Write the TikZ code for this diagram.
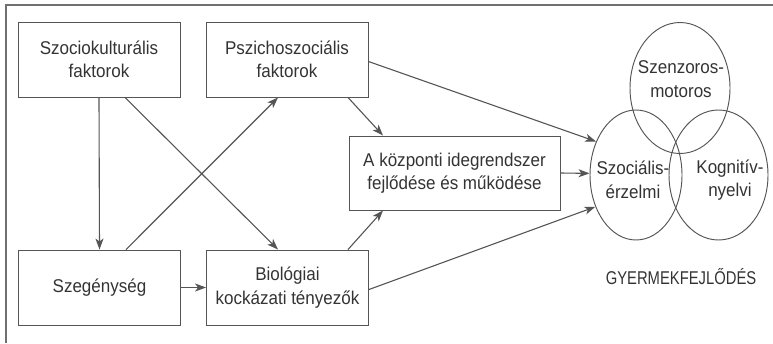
\documentclass[tikz,border=0pt]{standalone}
\usepackage{fontspec}
\setmainfont{Liberation Sans}[FakeStretch=0.92]
\newfontfamily\capsfont{Liberation Sans}[FakeStretch=0.8]
\usetikzlibrary{arrows.meta,shapes.geometric}
\definecolor{ink}{HTML}{333333}
\definecolor{edge}{HTML}{555555}
\definecolor{frame}{HTML}{707070}
\tikzset{
  txt/.style={font=\fontsize{18.5pt}{23.5pt}\selectfont, text=ink, align=center},
  box/.style={txt, draw=edge, line width=0.95pt, inner sep=0pt},
  blob/.style={ellipse, draw=edge, line width=0.95pt, inner sep=0pt},
  arr/.style={draw=edge, line width=1.1pt, -{Stealth[length=11pt,width=8pt,inset=3pt]}}
}
\begin{document}
\begin{tikzpicture}[x=1pt,y=-1pt]
\useasboundingbox (0,0) rectangle (773,343);
\draw[frame, line width=1.4pt] (6,343) -- (6,5) -- (773,5);

\node[box, minimum width=162pt, minimum height=75pt] (b1) at (99,59.5) {Szociokulturális\\faktorok};
\node[box, minimum width=162pt, minimum height=75pt] (b2) at (287,59.5) {Pszichoszociális\\faktorok};
\node[box, minimum width=162pt, minimum height=75pt] (b3) at (99.5,287.5) {Szegénység};
\node[box, minimum width=162pt, minimum height=75pt] (b4) at (287.5,287.5) {Biológiai\\kockázati tényezők};
\node[box, minimum width=211pt, minimum height=74pt] (b5) at (454.5,173) {A központi idegrendszer\\fejlődése és működése};

\node[blob, minimum width=100pt, minimum height=131pt] (szm) at (680,88) {};
\node[blob, minimum width=92pt, minimum height=130pt] (soc) at (636,175) {};
\node[blob, minimum width=99pt, minimum height=130pt] (kog) at (718.5,175) {};

\node[txt] (tszm) at (681,79) {Szenzoros-\\motoros};
\node[txt] (tsoc) at (633,180) {Szociális-\\érzelmi};
\node[txt] (tkog) at (730,180) {Kognitív-\\nyelvi};
\node[txt, font=\fontsize{18.5pt}{22pt}\capsfont] (gy) at (681,277) {GYERMEKFEJLŐDÉS};

\draw[arr] (b1.south) -- (b3.north);
\draw[arr] ([xshift=26pt]b1.south) -- ([xshift=-9.5pt]b4.north);
\draw[arr] ([xshift=26.5pt]b3.north) -- ([xshift=-9pt]b2.south);
\draw[arr] ([xshift=61pt]b2.south) -- ([xshift=-71.5pt]b5.north);
\draw[arr] ([xshift=60.5pt]b4.north) -- ([xshift=-71.5pt]b5.south);
\draw[arr] (b3.east) -- (b4.west);
\draw[arr] ([yshift=-2pt]b2.east) -- (soc.140);
\draw[arr] (b5.east) -- (soc.178);
\draw[arr] ([yshift=-2pt]b4.east) -- (soc.218);
\end{tikzpicture}
\end{document}
